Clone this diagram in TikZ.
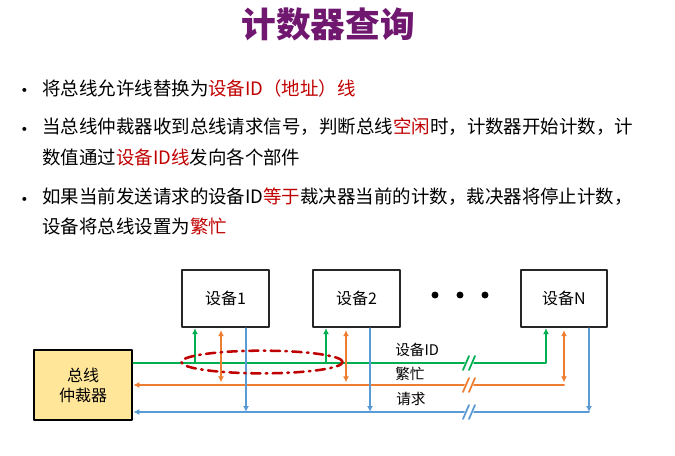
\documentclass[tikz,border=0pt]{standalone}
\usepackage{fontspec}
\setmainfont{Noto Sans CJK SC}
\usetikzlibrary{arrows.meta}

\definecolor{titlepurple}{RGB}{112,24,112}
\definecolor{hired}{RGB}{192,0,0}
\definecolor{idgreen}{RGB}{0,176,80}
\definecolor{busyorange}{RGB}{237,125,49}
\definecolor{reqblue}{RGB}{91,155,213}
\definecolor{arbfill}{RGB}{255,230,153}
\newcommand{\redword}[1]{\textcolor{hired}{#1}}

\begin{document}
\begin{tikzpicture}[x=0.75pt,y=-0.75pt,line cap=round,line join=round,
  tip/.style={-{Latex[length=4.5pt,width=4.5pt]}},
  bothtips/.style={{Latex[length=4.5pt,width=4.5pt]}-{Latex[length=4.5pt,width=4.5pt]}},
  bullettext/.style={anchor=west,inner sep=0pt,font=\fontsize{13.85}{16}\selectfont},
  bulletdot/.style={inner sep=0pt,yshift=-3.5pt,font=\fontsize{14}{16}\selectfont},
  devbox/.style={draw=black!85,line width=1.5pt,minimum width=65pt,minimum height=43pt,
    font=\fontsize{12}{14}\selectfont},
  arbbox/.style={draw=black,fill=arbfill,line width=2pt,minimum width=73.5pt,minimum height=52.5pt,
    align=center,font=\fontsize{12}{15}\selectfont},
  buslabel/.style={anchor=west,inner sep=0pt,font=\fontsize{11}{13}\selectfont},
  idbus/.style={draw=idgreen,line width=1.5pt},
  busybus/.style={draw=busyorange,line width=1.5pt},
  reqbus/.style={draw=reqblue,line width=1.5pt},
  idring/.style={draw=hired,line width=1.9pt,dash pattern=on 7pt off 4pt on 1.2pt off 4pt}]
  \useasboundingbox (0,0) rectangle (675,455);

  % Title and the three points.
  \node[font=\fontsize{26}{30}\selectfont\bfseries,text=titlepurple] (title) at (328,24) {计数器查询};

  \node[bulletdot] (dot1) at (25,88) {•};
  \node[bullettext] (line1) at (42,88) {将总线允许线替换为\redword{设备ID（地址）线}};
  \node[bulletdot] (dot2) at (25,127) {•};
  \node[bullettext] (line2a) at (42,127) {当总线仲裁器收到总线请求信号，判断总线\redword{空闲}时，计数器开始计数，计};
  \node[bullettext] (line2b) at (42,157) {数值通过\redword{设备ID线}发向各个部件};
  \node[bulletdot] (dot3) at (25,197) {•};
  \node[bullettext] (line3a) at (42,197) {如果当前发送请求的设备ID\redword{等于}裁决器当前的计数，裁决器将停止计数，};
  \node[bullettext] (line3b) at (42,226) {设备将总线设置为\redword{繁忙}};

  % Arbiter and devices.
  \node[arbbox] (arb) at (83,385) {总线\\仲裁器};
  \node[devbox] (dev1) at (225.5,298.5) {设备1};
  \node[devbox] (dev2) at (356.5,298.5) {设备2};
  \node[devbox] (devN) at (564,298.5) {设备N};
  \foreach \dx in {435,460,485}
    \fill (\dx,295) circle[radius=2.6pt];

  % Bus levels and the breaks in them.
  \coordinate (idY) at (0,363);
  \coordinate (busyY) at (0,385);
  \coordinate (reqY) at (0,412);
  \coordinate (gapL) at (464,0);
  \coordinate (gapR) at (474,0);

  % Device ID lines (green).
  \draw[idbus] (arb.east |- idY) -- (idY -| gapL);
  \draw[idbus,tip] (idY -| gapR) -- (idY -| 546,0) -- (devN.south -| 546,0);
  \foreach \tx/\dv in {195/dev1,326/dev2}
    \draw[idbus,line width=1.2pt,tip] (idY -| \tx,0) -- (\dv.south -| \tx,0);

  % Busy lines (orange).
  \draw[busybus,tip] (busyY -| gapL) -- (arb.east |- busyY);
  \draw[busybus] (busyY -| 564,0) -- (busyY -| gapR);
  \foreach \tx/\dv in {221/dev1,346/dev2,564/devN}
    \draw[busybus,line width=1.2pt,bothtips,shorten <=1.5pt,shorten >=2pt]
      (\dv.south -| \tx,0) -- (busyY -| \tx,0);

  % Request lines (blue).
  \draw[reqbus,tip] (reqY -| gapL) -- (arb.east |- reqY);
  \draw[reqbus] (reqY -| 589,0) -- (reqY -| gapR);
  \foreach \tx/\dv in {246/dev1,370/dev2,589/devN}
    \draw[reqbus,line width=1.2pt,tip] (\dv.south -| \tx,0) -- (reqY -| \tx,0);

  % Break marks.
  \foreach \by/\bc in {363/idgreen,385/busyorange,412/reqblue}{
    \draw[\bc,line width=1.3pt] (463,\by+7) -- (469,\by-7);
    \draw[\bc,line width=1.3pt] (469,\by+7) -- (475,\by-7);
  }

  \node[buslabel] (idlbl) at (395,350) {设备ID};
  \node[buslabel] (busylbl) at (395,374) {繁忙};
  \node[buslabel] (reqlbl) at (396,399) {请求};

  % The ring round the first two devices' ID taps.
  \draw[idring] (262,362) ellipse[x radius=60.5pt,y radius=8.5pt];
\end{tikzpicture}
\end{document}
